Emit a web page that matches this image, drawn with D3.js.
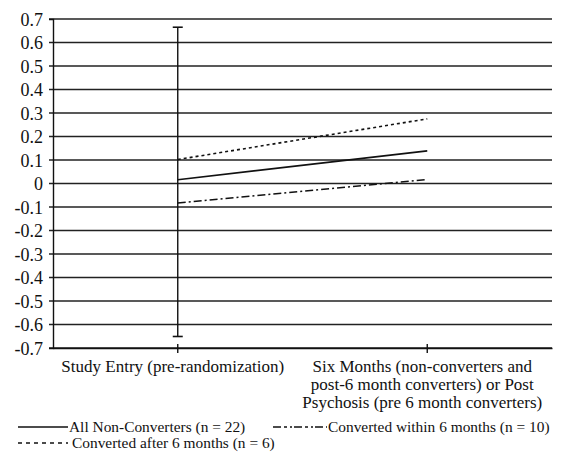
<!DOCTYPE html>
<html>
<head>
<meta charset="utf-8">
<script src="https://cdn.jsdelivr.net/npm/d3@7"></script>
<style>
	body { margin: 0; background: #fff; }
</style>
</head>
<body>
<div id="chart"></div>
<script>
// Daten
var categories = ["Study Entry (pre-randomization)",
	"Six Months (non-converters and|post-6 month converters) or Post|Psychosis (pre 6 month converters)"];
var seriesNames = ["All Non-Converters (n = 22)", "Converted within 6 months (n = 10)", "Converted after 6 months (n = 6)"];
var nonConverters = [0.016, 0.139];
var convertedWithin = [-0.083, 0.017];
var convertedAfter = [0.102, 0.275];
var errorBar = [-0.651, 0.665]; // nur bei Study Entry
var yTicks = [0.7, 0.6, 0.5, 0.4, 0.3, 0.2, 0.1, 0, -0.1, -0.2, -0.3, -0.4, -0.5, -0.6, -0.7];

var FONT = "Liberation Serif";

var margin = { top: 19, right: 10, bottom: 104, left: 53 };
var width = 562 - margin.left - margin.right,
	height = 452 - margin.top - margin.bottom;

var root = d3.select("#chart")
	.append("svg")
	.attr("width", 562)
	.attr("height", 452);

var svg = root.append("g")
	.attr("transform", "translate(" + margin.left + "," + margin.top + ")");

var x = d3.scaleBand()
	.domain(categories)
	.range([0, width]);

var y = d3.scaleLinear()
	.domain([-0.7, 0.7])
	.range([height, 0]);

// Gitterlinien (mit kleinem Tick links)
svg.selectAll(".grid")
	.data(yTicks)
	.enter()
	.append("line")
	.attr("x1", -4)
	.attr("x2", width)
	.attr("y1", function(d) { return y(d); })
	.attr("y2", function(d) { return y(d); })
	.attr("stroke", "#222")
	.attr("stroke-width", 1.4);

// Y Achse
var yAxis = svg.append("g")
	.call(d3.axisLeft(y).tickValues(yTicks).tickSize(4)
		.tickFormat(function(d) { return d === 0 ? "0" : d.toFixed(1); }));
yAxis.select(".domain").attr("stroke", "#111").attr("stroke-width", 1.4);
yAxis.selectAll(".tick line").remove();
yAxis.selectAll("text")
	.attr("x", -10)
	.attr("dy", "0.36em")
	.attr("font-family", FONT)
	.attr("font-size", 18)
	.attr("fill", "#111");

// X Achse
var xAxis = svg.append("g")
	.attr("transform", "translate(0," + height + ")")
	.call(d3.axisBottom(x).tickSize(5).tickSizeOuter(0).tickFormat(""));
xAxis.select(".domain").attr("stroke", "#111").attr("stroke-width", 1.4);
xAxis.selectAll(".tick line").attr("y1", -4).attr("stroke", "#111").attr("stroke-width", 1.4);

// X Beschriftung (mehrzeilig)
xAxis.selectAll(".tick").each(function(d) {
	var t = d3.select(this).append("text")
		.attr("text-anchor", "middle")
		.attr("y", 24)
		.attr("font-family", FONT)
		.attr("font-size", 17)
		.attr("fill", "#111");
	d.split("|").forEach(function(line, i) {
		t.append("tspan").attr("x", -5).attr("dy", i === 0 ? 0 : 18).text(line);
	});
});

// Fehlerbalken
var cx = x(categories[0]) + x.bandwidth() / 2;
svg.append("line")
	.attr("x1", cx).attr("x2", cx)
	.attr("y1", y(errorBar[0])).attr("y2", y(errorBar[1]))
	.attr("stroke", "#111").attr("stroke-width", 1.4);
svg.selectAll(".cap")
	.data(errorBar)
	.enter()
	.append("line")
	.attr("x1", cx - 5).attr("x2", cx + 5)
	.attr("y1", function(d) { return y(d); })
	.attr("y2", function(d) { return y(d); })
	.attr("stroke", "#111").attr("stroke-width", 1.6);

// Linien
var dashes = ["none", "8,3,2,3", "3,3"];
var series = [nonConverters, convertedWithin, convertedAfter];
var line = d3.line()
	.x(function(d, i) { return x(categories[i]) + x.bandwidth() / 2; })
	.y(function(d) { return y(d); });

svg.selectAll(".series")
	.data(series)
	.enter()
	.append("path")
	.attr("d", line)
	.attr("fill", "none")
	.attr("stroke", "#111")
	.attr("stroke-width", 1.6)
	.attr("stroke-dasharray", function(d, i) { return dashes[i]; });

// Legende
var legendPos = [
	{ x: 18, y: 432, len: 50, gap: 1, dash: "none" },
	{ x: 273, y: 432, len: 54, gap: 1, dash: "8,3,3,3,2,2" },
	{ x: 18, y: 448, len: 50, gap: 4, dash: "4,4" }
];
var legend = root.append("g");
seriesNames.forEach(function(name, i) {
	var p = legendPos[i];
	legend.append("line")
		.attr("x1", p.x).attr("x2", p.x + p.len)
		.attr("y1", p.y - 5).attr("y2", p.y - 5)
		.attr("stroke", "#111").attr("stroke-width", 1.4)
		.attr("stroke-dasharray", p.dash);
	legend.append("text")
		.attr("x", p.x + p.len + p.gap)
		.attr("y", p.y)
		.attr("font-family", FONT)
		.attr("font-size", 15.4)
		.attr("fill", "#111")
		.text(name);
});
</script>
</body>
</html>
